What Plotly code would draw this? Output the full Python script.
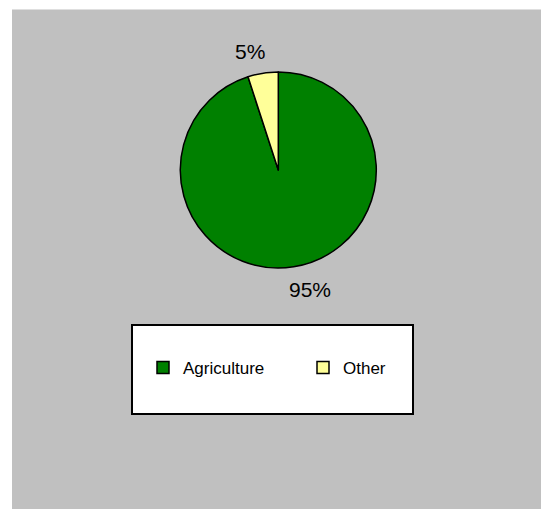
import plotly.graph_objects as go

labels = ["Agriculture", "Other"]
values = [95, 5]
colors = ["#008000", "#FFFF99"]

OFF = 8  # page body margin in the browser
W, H = 549 + 2 * OFF, 509 + 2 * OFF  # figure a bit larger so the gray reaches the window edge


def px(x):
    return (x - OFF) / W


def py(y):
    return 1 - (y - OFF) / H


total = sum(values)
pct = [f"{round(v / total * 100)}%" for v in values]

fig = go.Figure()
fig.add_trace(
    go.Pie(
        labels=labels,
        values=values,
        sort=False,
        direction="clockwise",
        rotation=0,
        textinfo="none",
        hoverinfo="label+percent",
        marker=dict(colors=colors, line=dict(color="#000000", width=1.5)),
        domain=dict(x=[px(180.3), px(376.3)], y=[py(268), py(72)]),
    )
)

# percent labels placed like the original chart
label_pos = [(310, 289), (250, 52)]
annotations = [
    dict(
        x=px(lx), y=py(ly), xref="paper", yref="paper", text=t,
        showarrow=False, font=dict(size=21, color="#000000"),
        xanchor="center", yanchor="middle",
    )
    for t, (lx, ly) in zip(pct, label_pos)
]

fig.update_layout(
    width=W,
    height=H,
    margin=dict(l=0, r=0, t=0, b=0),
    paper_bgcolor="#FFFFFF",
    font=dict(family="Liberation Sans, Arial, sans-serif", color="#000000"),
    annotations=annotations,
    shapes=[
        # gray chart area
        dict(type="rect", xref="paper", yref="paper", x0=px(12), x1=1.0,
             y0=0.0, y1=py(9.5), fillcolor="#C0C0C0", line=dict(width=0),
             layer="below"),
        # legend box
        dict(type="rect", xref="paper", yref="paper", x0=px(132), x1=px(413),
             y0=py(414), y1=py(325), fillcolor="#FFFFFF",
             line=dict(color="#000000", width=2), layer="below"),
    ],
    showlegend=True,
    legend=dict(
        orientation="h",
        x=px(143),
        y=py(368),
        xanchor="left",
        yanchor="middle",
        bgcolor="rgba(0,0,0,0)",
        borderwidth=0,
        entrywidth=115,
        font=dict(size=17, color="#000000"),
        traceorder="normal",
    ),
)

fig.write_html("out.html")
